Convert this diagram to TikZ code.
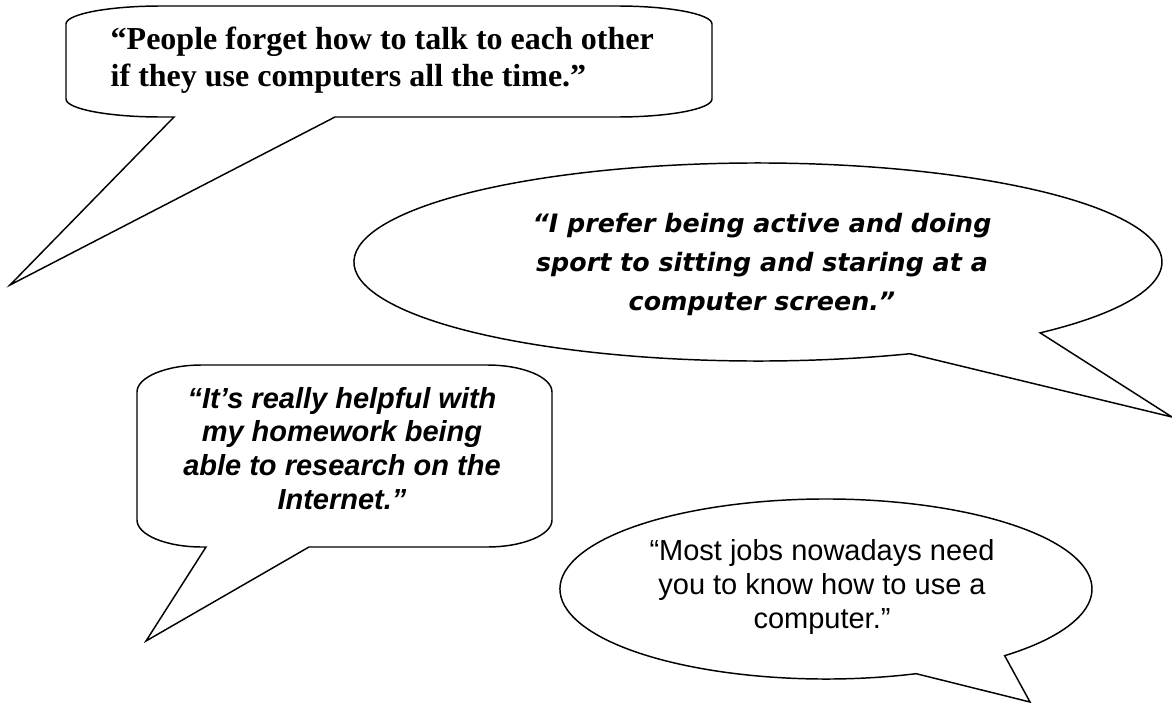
\documentclass[tikz,border=0pt]{standalone}
\usepackage{fontspec}
\newfontfamily\serifquote{Liberation Serif}
\newfontfamily\sansquote{Liberation Sans}
\newfontfamily\comicquote{DejaVu Sans}
\tikzset{every picture/.style={line width=1.1pt}}

\begin{document}
\begin{tikzpicture}[x=0.75pt,y=0.75pt,yscale=-1,xscale=1]
\useasboundingbox (0,0) rectangle (1172,703);

%Shape: Rounded Callout (top left)
\draw (174,117) -- (10,285) -- (335,117) -- (617,117) arc[start angle=90, end angle=0, x radius=95, y radius=18] -- (712,24) arc[start angle=0, end angle=-90, x radius=95, y radius=18] -- (161,6) arc[start angle=270, end angle=180, x radius=95, y radius=18] -- (66,99) arc[start angle=180, end angle=90, x radius=95, y radius=18] -- cycle ;
%Shape: Oval Callout (top right)
\draw (758,262) ++(67.9:404 and 99) arc[start angle=67.9, end angle=405.7, x radius=404, y radius=99] -- (1172,417) -- cycle ;
%Shape: Rounded Callout (middle left)
\draw (206,547) -- (146,641) -- (309,547) -- (487,547) arc[start angle=90, end angle=0, x radius=65, y radius=27] -- (552,392) arc[start angle=0, end angle=-90, x radius=65, y radius=27] -- (202,365) arc[start angle=270, end angle=180, x radius=65, y radius=27] -- (137,520) arc[start angle=180, end angle=90, x radius=65, y radius=27] -- cycle ;
%Shape: Oval Callout (bottom right)
\draw (826,589) ++(70.2:266 and 90) arc[start angle=70.2, end angle=407.8, x radius=266, y radius=90] -- (1030,702) -- cycle ;

% Text Node
\draw (110,86) node (talk) [anchor=base west,inner sep=0pt,align=left,font=\serifquote\bfseries\fontsize{24}{27.75}\selectfont] {“People forget how to talk to each other\\if they use computers all the time.”};
% Text Node
\draw (762,310) node (sport) [anchor=base,inner sep=0pt,align=center,font=\comicquote\bfseries\itshape\fontsize{19}{29.25}\selectfont] {“I prefer being active and doing\\sport to sitting and staring at a\\computer screen.”};
% Text Node
\draw (342,509) node (homework) [anchor=base,inner sep=0pt,align=center,font=\sansquote\bfseries\itshape\fontsize{21.75}{25.2}\selectfont] {“It’s really helpful with\\my homework being\\able to research on the\\Internet.”};
% Text Node
\draw (822,628) node (jobs) [anchor=base,inner sep=0pt,align=center,font=\sansquote\fontsize{21.75}{25.2}\selectfont] {“Most jobs nowadays need\\you to know how to use a\\computer.”};
\end{tikzpicture}
\end{document}
